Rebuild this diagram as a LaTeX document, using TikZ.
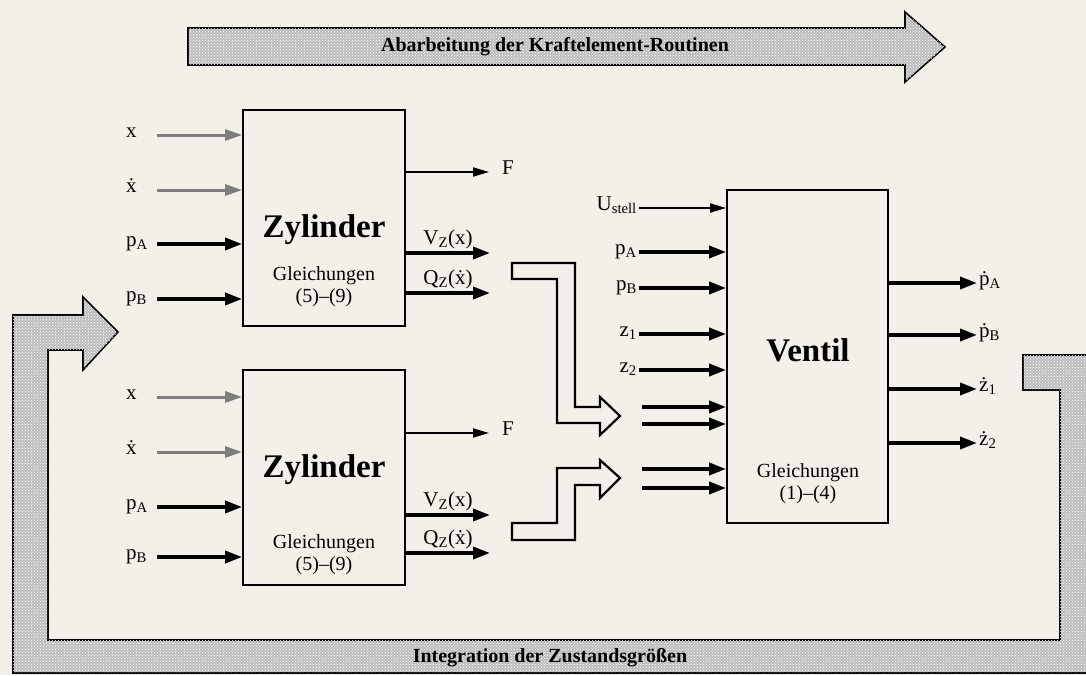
\documentclass[tikz,border=0pt]{standalone}
\usepackage{fontspec}
\setmainfont{Liberation Serif}
\usetikzlibrary{arrows.meta,patterns}
\definecolor{paper}{RGB}{242,240,233}
\definecolor{inGray}{RGB}{125,125,125}

\begin{document}
\begin{tikzpicture}[
  x=1pt, y=-1pt,
  box/.style={
    draw,
    line width=1.8pt,
    minimum width=162pt
  },
  title/.style={font=\fontsize{33}{35}\selectfont\bfseries},
  eqn/.style={font=\fontsize{20}{22}\selectfont, align=center},
  sig/.style={font=\fontsize{21}{23}\selectfont, inner sep=2pt},
  zin/.style={sig, anchor=mid west, text width=31pt, inner sep=0pt},
  band/.style={
    draw,
    line width=1.6pt,
    fill=black!26,
    postaction={pattern=crosshatch dots, pattern color=white}
  },
  bandtext/.style={font=\fontsize{20}{22}\selectfont\bfseries},
  hollow/.style={draw, line width=2.2pt, fill=paper},
  bold arrow/.style={-{Triangle[length=17pt,width=12pt]}, line width=3.6pt},
  thin arrow/.style={-{Triangle[length=16pt,width=9pt]}, line width=1.8pt},
  gray arrow/.style={-{Triangle[length=17pt,width=11pt]}, line width=3pt, inGray}
]
  \fill[paper] (0,0) rectangle (1086,675);
  \useasboundingbox (0,0) rectangle (1086,675);

  % bands
  \draw[band] (188,28) -- (905,28) -- (905,12) -- (945,47) -- (905,82)
    -- (905,65) -- (188,65) -- cycle;
  \node[bandtext] (abarb) at (555,47) {Abarbeitung der Kraftelement-Routinen};
  \draw[band] (118,332) -- (83,297) -- (83,315) -- (13,315) -- (13,673)
    -- (1095,673) -- (1095,355) -- (1023,355) -- (1023,390) -- (1060,390)
    -- (1060,640) -- (48,640) -- (48,350) -- (83,350) -- (83,370) -- cycle;
  \node[bandtext] (integ) at (550,658) {Integration der Zustandsgrößen};

  % upper cylinder
  \node[box, minimum height=216pt] (zyl1) at (324,218) {};
  \node[title] (zyl1name) at (324,230) {Zylinder};
  \node[eqn] (zyl1eq) at (324,287) {Gleichungen\\(5)--(9)};
  \node[zin] (zyl1x) at (126,135) {x};
  \node[zin] (zyl1xd) at (126,190) {\.{x}};
  \node[zin] (zyl1pa) at (126,244) {p\textsubscript{A}};
  \node[zin] (zyl1pb) at (126,299) {p\textsubscript{B}};
  \draw[gray arrow] (zyl1x.mid east) -- (zyl1x.mid east -| zyl1.west);
  \draw[gray arrow] (zyl1xd.mid east) -- (zyl1xd.mid east -| zyl1.west);
  \draw[bold arrow] (zyl1pa.mid east) -- (zyl1pa.mid east -| zyl1.west);
  \draw[bold arrow] (zyl1pb.mid east) -- (zyl1pb.mid east -| zyl1.west);
  \node[sig, anchor=mid west] (zyl1f) at (500,172) {F};
  \draw[thin arrow, shorten >=11pt] (zyl1f.mid west -| zyl1.east) -- (zyl1f.mid west);
  \coordinate (zyl1v) at (490,253);
  \coordinate (zyl1q) at (490,293);
  \draw[bold arrow] (zyl1v -| zyl1.east) --
    node[sig, above] (zyl1vl) {V\textsubscript{Z}(x)} (zyl1v);
  \draw[bold arrow] (zyl1q -| zyl1.east) --
    node[sig, above] (zyl1ql) {Q\textsubscript{Z}(\.{x})} (zyl1q);

  % lower cylinder
  \node[box, minimum height=215pt] (zyl2) at (324,477.5) {};
  \node[title] (zyl2name) at (324,470) {Zylinder};
  \node[eqn] (zyl2eq) at (324,555) {Gleichungen\\(5)--(9)};
  \node[zin] (zyl2x) at (126,397) {x};
  \node[zin] (zyl2xd) at (126,452) {\.{x}};
  \node[zin] (zyl2pa) at (126,507) {p\textsubscript{A}};
  \node[zin] (zyl2pb) at (126,557) {p\textsubscript{B}};
  \draw[gray arrow] (zyl2x.mid east) -- (zyl2x.mid east -| zyl2.west);
  \draw[gray arrow] (zyl2xd.mid east) -- (zyl2xd.mid east -| zyl2.west);
  \draw[bold arrow] (zyl2pa.mid east) -- (zyl2pa.mid east -| zyl2.west);
  \draw[bold arrow] (zyl2pb.mid east) -- (zyl2pb.mid east -| zyl2.west);
  \node[sig, anchor=mid west] (zyl2f) at (500,433) {F};
  \draw[thin arrow, shorten >=11pt] (zyl2f.mid west -| zyl2.east) -- (zyl2f.mid west);
  \coordinate (zyl2v) at (490,515);
  \coordinate (zyl2q) at (490,553);
  \draw[bold arrow] (zyl2v -| zyl2.east) --
    node[sig, above] (zyl2vl) {V\textsubscript{Z}(x)} (zyl2v);
  \draw[bold arrow] (zyl2q -| zyl2.east) --
    node[sig, above] (zyl2ql) {Q\textsubscript{Z}(\.{x})} (zyl2q);

  % hollow transfer arrows
  \draw[hollow] (512,263) -- (575,263) -- (575,407) -- (600,407) -- (600,397)
    -- (620,416) -- (600,435) -- (600,423) -- (557,423) -- (557,279)
    -- (512,279) -- cycle;
  \draw[hollow] (512,540) -- (575,540) -- (575,485) -- (600,485) -- (600,498)
    -- (620,478) -- (600,460) -- (600,468) -- (557,468) -- (557,523)
    -- (512,523) -- cycle;

  % valve
  \node[box, minimum width=161pt, minimum height=333pt] (ventil) at (807.5,356.5) {};
  \node[title] (ventilname) at (808,350) {Ventil};
  \node[eqn] (ventileq) at (808,484) {Gleichungen\\(1)--(4)};
  \node[sig, anchor=mid east] (vus) at (639,208) {U\textsubscript{stell}};
  \node[sig, anchor=mid east] (vpa) at (639,252) {p\textsubscript{A}};
  \node[sig, anchor=mid east] (vpb) at (639,288) {p\textsubscript{B}};
  \node[sig, anchor=mid east] (vz1) at (639,334) {z\textsubscript{1}};
  \node[sig, anchor=mid east] (vz2) at (639,370) {z\textsubscript{2}};
  \draw[thin arrow] (vus.mid east) -- (vus.mid east -| ventil.west);
  \draw[bold arrow] (vpa.mid east) -- (vpa.mid east -| ventil.west);
  \draw[bold arrow] (vpb.mid east) -- (vpb.mid east -| ventil.west);
  \draw[bold arrow] (vz1.mid east) -- (vz1.mid east -| ventil.west);
  \draw[bold arrow] (vz2.mid east) -- (vz2.mid east -| ventil.west);
  \coordinate (vin1) at (642,407);
  \coordinate (vin2) at (642,424);
  \coordinate (vin3) at (642,469);
  \coordinate (vin4) at (642,488);
  \draw[bold arrow] (vin1) -- (vin1 -| ventil.west);
  \draw[bold arrow] (vin2) -- (vin2 -| ventil.west);
  \draw[bold arrow] (vin3) -- (vin3 -| ventil.west);
  \draw[bold arrow] (vin4) -- (vin4 -| ventil.west);
  \node[sig, anchor=mid west] (vdpa) at (977,283) {\.{p}\textsubscript{A}};
  \node[sig, anchor=mid west] (vdpb) at (977,335) {\.{p}\textsubscript{B}};
  \node[sig, anchor=mid west] (vdz1) at (977,389) {\.{z}\textsubscript{1}};
  \node[sig, anchor=mid west] (vdz2) at (977,443) {\.{z}\textsubscript{2}};
  \draw[bold arrow] (vdpa.mid west -| ventil.east) -- (vdpa.mid west);
  \draw[bold arrow] (vdpb.mid west -| ventil.east) -- (vdpb.mid west);
  \draw[bold arrow] (vdz1.mid west -| ventil.east) -- (vdz1.mid west);
  \draw[bold arrow] (vdz2.mid west -| ventil.east) -- (vdz2.mid west);
\end{tikzpicture}
\end{document}
